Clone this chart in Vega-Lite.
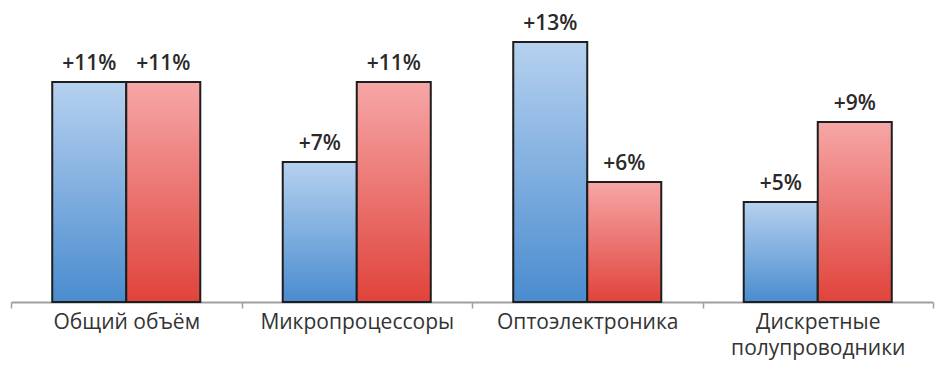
{
  "$schema": "https://vega.github.io/schema/vega-lite/v6.json",
  "width": 922,
  "height": 302,
  "autosize": "none",
  "padding": {"left": 11, "top": 0, "right": 7, "bottom": 65},
  "background": "white",
  "config": {"view": {"stroke": null}, "font": "Open Sans"},
  "data": {"values": [
    {"category": "Общий объём", "series": "Ряд 1", "value": 11, "label": "+11%"},
    {"category": "Общий объём", "series": "Ряд 2", "value": 11, "label": "+11%"},
    {"category": "Микропроцессоры", "series": "Ряд 1", "value": 7, "label": "+7%"},
    {"category": "Микропроцессоры", "series": "Ряд 2", "value": 11, "label": "+11%"},
    {"category": "Оптоэлектроника", "series": "Ряд 1", "value": 13, "label": "+13%"},
    {"category": "Оптоэлектроника", "series": "Ряд 2", "value": 6, "label": "+6%"},
    {"category": "Дискретные полупроводники", "series": "Ряд 1", "value": 5, "label": "+5%"},
    {"category": "Дискретные полупроводники", "series": "Ряд 2", "value": 9, "label": "+9%"}
  ]},
  "encoding": {
    "x": {
      "field": "category", "type": "nominal", "sort": null,
      "scale": {"paddingInner": 0, "paddingOuter": 0},
      "axis": {
        "title": null, "labelAngle": 0, "labelFontSize": 21, "labelColor": "#333333",
        "labelFont": "Open Sans", "labelPadding": 3, "labelLineHeight": 26,
        "labelExpr": "datum.value == 'Дискретные полупроводники' ? ['Дискретные', 'полупроводники'] : datum.value",
        "domainColor": "#a0a0a0", "domainWidth": 2, "ticks": true, "tickColor": "#a0a0a0", "tickWidth": 1.5,
        "tickSize": 6, "tickBand": "extent", "labelBaseline": "top", "labelLimit": 300
      }
    },
    "xOffset": {"field": "series", "type": "nominal", "scale": {"domain": ["Ряд 1", "Ряд 2"], "paddingInner": 0, "paddingOuter": 0.557}},
    "y": {"field": "value", "type": "quantitative", "scale": {"domain": [0, 15.1], "nice": false, "zero": true}, "axis": null}
  },
  "layer": [
    {
      "transform": [{"filter": "datum.series == 'Ряд 1'"}],
      "mark": {"type": "bar", "stroke": "#1e1e1e", "strokeWidth": 2,
        "color": {"gradient": "linear", "x1": 0, "y1": 0, "x2": 0, "y2": 1,
          "stops": [{"offset": 0, "color": "#b6d1ef"}, {"offset": 1, "color": "#4a8ccf"}]}}
    },
    {
      "transform": [{"filter": "datum.series == 'Ряд 2'"}],
      "mark": {"type": "bar", "stroke": "#1e1e1e", "strokeWidth": 2,
        "color": {"gradient": "linear", "x1": 0, "y1": 0, "x2": 0, "y2": 1,
          "stops": [{"offset": 0, "color": "#f6a7a7"}, {"offset": 1, "color": "#e0433b"}]}}
    },
    {
      "mark": {"type": "text", "baseline": "bottom", "dy": -8, "fontSize": 21, "fontWeight": 600, "color": "#2a2a2a", "font": "Open Sans"},
      "encoding": {"text": {"field": "label", "type": "nominal"}}
    }
  ]
}
